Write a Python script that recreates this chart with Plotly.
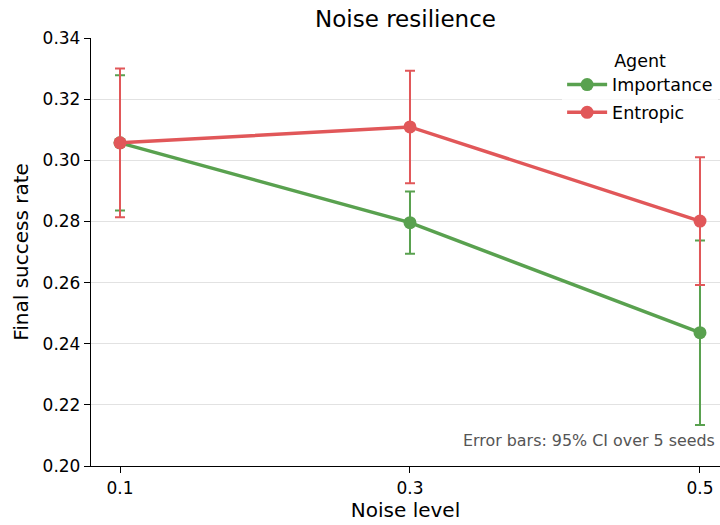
import plotly.graph_objects as go

noise = [0.1, 0.3, 0.5]
importance = [0.3057, 0.2796, 0.2436]
importance_ci = [0.0221, 0.0102, 0.0302]
entropic = [0.3057, 0.3109, 0.2801]
entropic_ci = [0.0243, 0.0184, 0.0209]
y_ticks = [0.20, 0.22, 0.24, 0.26, 0.28, 0.30, 0.32, 0.34]

GREEN = "#59a14f"
RED = "#e15759"

W, H = 720, 525

fig = go.Figure()
for name, vals, ci, col in [("Importance", importance, importance_ci, GREEN),
                            ("Entropic", entropic, entropic_ci, RED)]:
    fig.add_trace(go.Scatter(
        x=noise, y=vals, name=name, mode="lines+markers", legendgroup=name,
        line=dict(color=col, width=3.5),
        marker=dict(color=col, size=13),
        error_y=dict(type="data", array=ci, visible=True, color=col,
                     thickness=2, width=5),
    ))

fig.update_layout(
    width=W, height=H,
    margin=dict(l=91, r=0, t=38, b=59),
    paper_bgcolor="white", plot_bgcolor="white",
    font=dict(family="DejaVu Sans", size=17, color="black"),
    title=dict(text="Noise resilience", x=0.5, xref="paper", xanchor="center",
               y=1 - 18.5 / H, yref="container", yanchor="middle",
               font=dict(size=23)),
    xaxis=dict(range=[0.08, 0.5138], tickvals=noise, ticktext=["0.1", "0.3", "0.5"],
               showgrid=False, zeroline=False, showline=True, linecolor="black",
               linewidth=1.3, ticks="outside", ticklen=6, tickcolor="black",
               tickfont=dict(size=17),
               title=dict(text="Noise level", font=dict(size=20), standoff=6)),
    yaxis=dict(range=[0.20, 0.34], tickvals=y_ticks,
               ticktext=[f"{v:.2f}" for v in y_ticks],
               showgrid=True, gridcolor="#e2e2e2", gridwidth=1, zeroline=False,
               showline=True, linecolor="black", linewidth=1.3,
               ticks="outside", ticklen=6, tickcolor="black",
               tickfont=dict(size=17),
               title=dict(text="Final success rate", font=dict(size=20), standoff=8)),
    legend=dict(x=0.749, y=0.986, xanchor="left", yanchor="top",
                bgcolor="rgba(255,255,255,0.8)", font=dict(size=17.5),
                title=dict(text="Agent", side="top center", font=dict(size=17.5)),
                itemwidth=40, tracegroupgap=2),
    annotations=[dict(text="Error bars: 95% CI over 5 seeds", xref="paper", yref="paper",
                      x=0.9952, y=0.0607, xanchor="right", yanchor="middle",
                      showarrow=False, font=dict(size=15.9, color="#555555"))],
)

fig.write_html("out.html", config={"displayModeBar": False},
               post_script="document.body.style.margin='0';")
